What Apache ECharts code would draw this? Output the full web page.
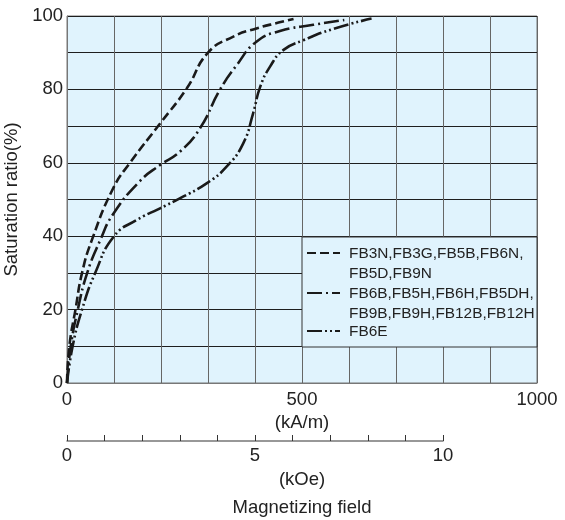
<!DOCTYPE html>
<html>
<head>
<meta charset="utf-8">
<script src="https://cdn.jsdelivr.net/npm/echarts@6/dist/echarts.min.js"></script>
<style>html,body{margin:0;padding:0;background:#fff}#c{width:565px;height:520px}</style>
</head>
<body>
<div id="c"></div>
<script>
// ---- data ----
const seriesNames = [
  'FB3N,FB3G,FB5B,FB6N,\nFB5D,FB9N',
  'FB6B,FB5H,FB6H,FB5DH,\nFB9B,FB9H,FB12B,FB12H',
  'FB6E'
];
const fieldA = [0, 5, 18, 32, 53, 98, 134, 198, 255, 300, 354, 403, 450, 482];
const satA   = [0, 10, 20, 30, 39, 53, 60, 70.7, 80.3, 90, 94.4, 96.6, 98.2, 99.2];
const fieldB = [0, 8, 23, 43, 71, 98, 155, 198, 240, 283, 325, 361, 403, 453, 524, 590];
const satB   = [0, 10, 20, 30, 39, 46, 55, 59.4, 63, 69.4, 79.8, 86.6, 93, 95.9, 97.6, 98.9];
const fieldC = [0, 12, 32, 60, 100, 148, 198, 240, 297, 340, 375, 396, 411, 432, 460, 503, 567, 648];
const satC   = [0, 10, 20, 30, 40, 44.4, 47.6, 50.3, 54.4, 59, 65.3, 73.5, 80.7, 86.2, 90.7, 93.4, 96.5, 99.3];
const yTicks = [0, 20, 40, 60, 80, 100];
const xTicks = [0, 500, 1000];
const kOeTicks = [0, 5, 10];

const pairs = (xs, ys) => xs.map((x, i) => [x, ys[i]]);
const dashes = [[9, 4], [15, 4, 2, 4], [15, 3, 2, 3, 2, 3]];
const dataSets = [pairs(fieldA, satA), pairs(fieldB, satB), pairs(fieldC, satC)];

const FONT = 'Liberation Sans, Arial, sans-serif';
const AX = 18.5;
const BG = '#e0f3fd';
const chart = echarts.init(document.getElementById('c'), null, {renderer: 'canvas'});

const L = 67, T = 16, W = 470, H = 367;
const legendX = 302, legendY = 237;

const graphics = [
  {type: 'rect', shape: {x: legendX, y: legendY, width: L + W - legendX, height: 110},
   style: {fill: BG, stroke: '#333', lineWidth: 1}, z: 100},
  {type: 'text', style: {text: '(kOe)', x: 302, y: 480, font: AX + 'px ' + FONT, fill: '#222', textAlign: 'center', textVerticalAlign: 'middle'}, z: 100},
  {type: 'text', style: {text: 'Magnetizing field', x: 302, y: 508, font: AX + 'px ' + FONT, fill: '#222', textAlign: 'center', textVerticalAlign: 'middle'}, z: 100}
];
const legendRows = [253, 293, 331];
seriesNames.forEach((nm, i) => {
  graphics.push({type: 'line', shape: {x1: 307, y1: legendRows[i], x2: 340, y2: legendRows[i]},
    style: {stroke: '#1a1a1a', lineWidth: 2, lineDash: dashes[i]}, z: 101});
  graphics.push({type: 'text', style: {text: nm, x: 349, y: legendRows[i] - 9, font: '15.4px ' + FONT,
    fill: '#222', lineHeight: 20, textVerticalAlign: 'top'}, z: 101});
});

chart.setOption({
  animation: false,
  grid: [
    {left: L, top: T, width: W, height: H, show: true, backgroundColor: BG, borderColor: '#777', borderWidth: 1,
     containLabel: false, outerBoundsMode: 'none'},
    {left: L, top: 440, width: 376, height: 1, show: false, containLabel: false, outerBoundsMode: 'none'}
  ],
  xAxis: [
    {type: 'value', gridIndex: 0, min: 0, max: 1000, interval: 100,
     name: '(kA/m)', nameLocation: 'middle', nameGap: 30,
     nameTextStyle: {fontSize: AX, fontFamily: FONT, color: '#222'},
     axisLine: {show: true, lineStyle: {color: '#777'}},
     axisTick: {show: false},
     axisLabel: {margin: 7, fontSize: AX, fontFamily: FONT, color: '#222',
       formatter: v => xTicks.includes(v) ? String(v) : ''},
     splitLine: {show: true, lineStyle: {color: '#666', width: 1}}},
    {type: 'value', gridIndex: 1, min: 0, max: 10, interval: 1, position: 'bottom',
     axisLine: {show: true, lineStyle: {color: '#777', width: 1.5}},
     axisTick: {show: true, inside: true, length: 6, lineStyle: {color: '#333'}},
     axisLabel: {margin: 5, fontSize: AX, fontFamily: FONT, color: '#222',
       formatter: v => kOeTicks.includes(v) ? String(v) : ''},
     splitLine: {show: false}}
  ],
  yAxis: [
    {type: 'value', gridIndex: 0, min: 0, max: 100, interval: 10,
     name: 'Saturation ratio(%)', nameLocation: 'middle', nameGap: 36, nameRotate: 90,
     nameTextStyle: {fontSize: AX, fontFamily: FONT, color: '#222'},
     axisLine: {show: true, lineStyle: {color: '#777'}},
     axisTick: {show: false},
     axisLabel: {margin: 4, fontSize: AX, fontFamily: FONT, color: '#222',
       formatter: v => yTicks.includes(v) ? String(v) : ''},
     splitLine: {show: true, lineStyle: {color: '#1e1e1e', width: 1}}},
    {type: 'value', gridIndex: 1, min: 0, max: 1, show: false}
  ],
  series: dataSets.map((d, i) => ({
    name: seriesNames[i], type: 'line', xAxisIndex: 0, yAxisIndex: 0,
    data: d, showSymbol: false, smooth: 0.5,
    lineStyle: {color: '#1a1a1a', width: 2.6, type: dashes[i]}, z: 5
  })),
  graphic: graphics
});
</script>
</body>
</html>
